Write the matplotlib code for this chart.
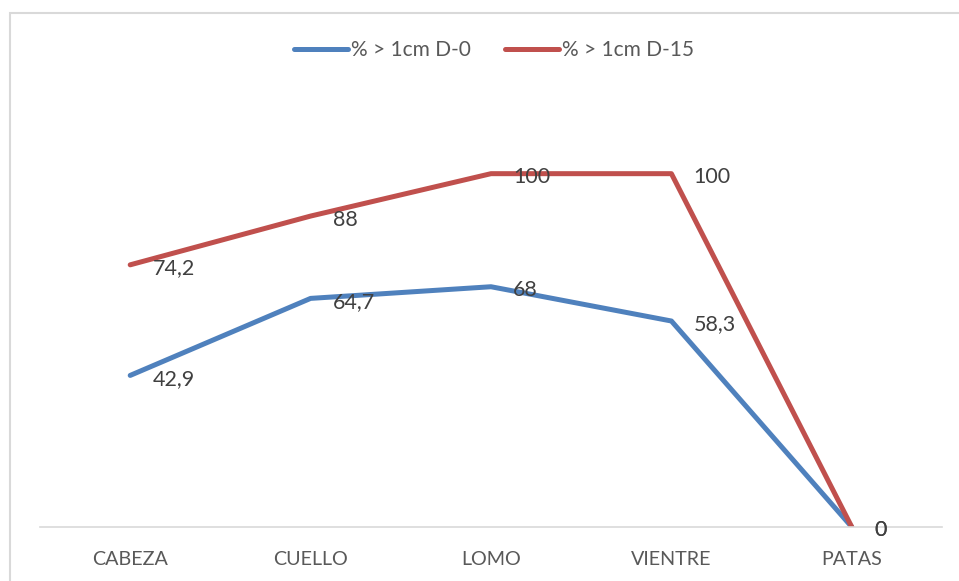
import matplotlib
matplotlib.use("Agg")
import matplotlib.pyplot as plt
from matplotlib.patches import Rectangle

categories = ["CABEZA", "CUELLO", "LOMO", "VIENTRE", "PATAS"]
d0_values = [42.9, 64.7, 68, 58.3, 0]
d15_values = [74.2, 88, 100, 100, 0]
series_names = ["% > 1cm D-0", "% > 1cm D-15"]
label_text_d0 = ["42,9", "64,7", "68", "58,3", "0"]
label_text_d15 = ["74,2", "88", "100", "100", "0"]

plt.rcParams["font.family"] = ["Lato", "DejaVu Sans"]

fig = plt.figure(figsize=(9.59, 5.81), dpi=100)
fig.patches.append(Rectangle((10 / 959, -0.1), 1.2, 1 - 13 / 581 + 0.1,
                             transform=fig.transFigure, fill=False,
                             edgecolor="#D9D9D9", linewidth=1.5))

ax = fig.add_axes([40 / 959, 1 - 527 / 581, 902 / 959, 424 / 581])
x = list(range(len(categories)))

blue = "#4F81BD"
red = "#C0504D"
ax.plot(x, d0_values, color=blue, linewidth=3.6, solid_joinstyle="round",
        solid_capstyle="round", label=series_names[0])
ax.plot(x, d15_values, color=red, linewidth=3.6, solid_joinstyle="round",
        solid_capstyle="round", label=series_names[1])

for xi, v, t in zip(x, d0_values, label_text_d0):
    ax.annotate(t, (xi, v), xytext=(16, -2.5), textcoords="offset points",
                ha="left", va="center", fontsize=15.5, color="#404040")
for xi, v, t in zip(x, d15_values, label_text_d15):
    ax.annotate(t, (xi, v), xytext=(16, -2.5), textcoords="offset points",
                ha="left", va="center", fontsize=15.5, color="#404040")

ax.set_xlim(-0.5, len(categories) - 0.5)
ax.set_ylim(0, 120)
ax.set_xticks(x)
ax.set_xticklabels(categories, fontsize=14.2, color="#595959")
ax.tick_params(axis="x", length=0, pad=17)
ax.set_yticks([])
for side in ["left", "right", "top"]:
    ax.spines[side].set_visible(False)
ax.spines["bottom"].set_color("#D9D9D9")
ax.spines["bottom"].set_linewidth(1.2)

leg = fig.legend(loc="center", bbox_to_anchor=(494 / 959, 1 - 50 / 581),
                 ncol=2, frameon=False, fontsize=15, handlelength=2.6,
                 handletextpad=0.15, columnspacing=1.6, labelcolor="#595959")
for line in leg.get_lines():
    line.set_linewidth(3.6)

fig.savefig("out.png", dpi=100)
